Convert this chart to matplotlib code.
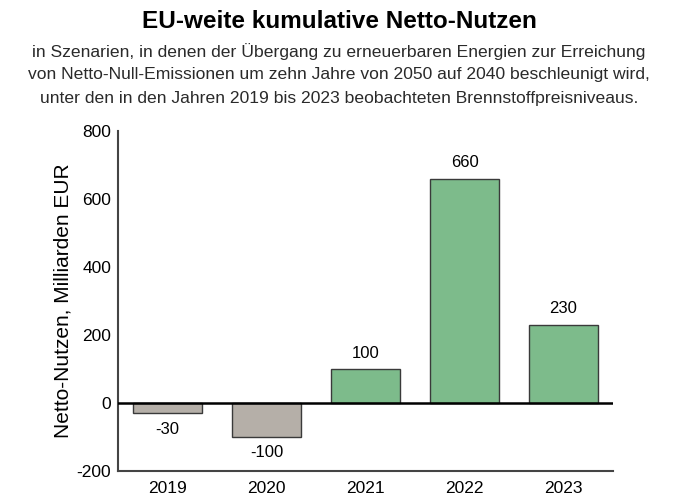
import matplotlib
matplotlib.use("Agg")
from matplotlib import pyplot as plt

years = ["2019", "2020", "2021", "2022", "2023"]
values = [-30, -100, 100, 660, 230]
labels = ["-30", "-100", "100", "660", "230"]
yticks = [-200, 0, 200, 400, 600, 800]

plt.rcParams["font.family"] = ["Liberation Sans", "DejaVu Sans"]
plt.rcParams["axes.unicode_minus"] = False

fig = plt.figure(figsize=(6.78, 5.04), dpi=100)
ax = fig.add_axes([118 / 678, 1 - 471 / 504, (613 - 118) / 678, (471 - 131) / 504])

colors = ["#b5afa8" if v < 0 else "#7dbb8b" for v in values]
x = list(range(len(years)))
ax.bar(x, values, width=0.7, color=colors, edgecolor="#3a3a3a", linewidth=1.0, zorder=2)
ax.axhline(0, color="black", linewidth=1.8, zorder=3)

for xi, v, lab in zip(x, values, labels):
    if v >= 0:
        ax.annotate(lab, (xi, v), xytext=(0, 6), textcoords="offset points",
                    ha="center", va="bottom", fontsize=12)
    else:
        ax.annotate(lab, (xi, v), xytext=(0, -6), textcoords="offset points",
                    ha="center", va="top", fontsize=12)

ax.set_xlim(-0.5, 4.5)
ax.set_ylim(-200, 800)
ax.set_yticks(yticks)
ax.set_xticks(x)
ax.set_xticklabels(years)
ax.tick_params(axis="y", length=0, labelsize=12.5, pad=5)
ax.tick_params(axis="x", length=0, labelsize=12.5, pad=7)
ax.spines["top"].set_visible(False)
ax.spines["right"].set_visible(False)
for s in ["left", "bottom"]:
    ax.spines[s].set_color("#444444")
    ax.spines[s].set_linewidth(1.5)
ax.set_ylabel("Netto-Nutzen, Milliarden EUR", fontsize=15, labelpad=3)

fig.text(0.5, 1 - 22 / 504, "EU-weite kumulative Netto-Nutzen", ha="center", va="center",
         fontsize=17.5, fontweight="bold")
sub = ["in Szenarien, in denen der Übergang zu erneuerbaren Energien zur Erreichung",
       "von Netto-Null-Emissionen um zehn Jahre von 2050 auf 2040 beschleunigt wird,",
       "unter den in den Jahren 2019 bis 2023 beobachteten Brennstoffpreisniveaus."]
for i, line in enumerate(sub):
    fig.text(0.5, 1 - (52 + 23 * i) / 504, line, ha="center", va="center",
             fontsize=12.6, color="#2a2a2a")

fig.savefig("out.png", dpi=100)
